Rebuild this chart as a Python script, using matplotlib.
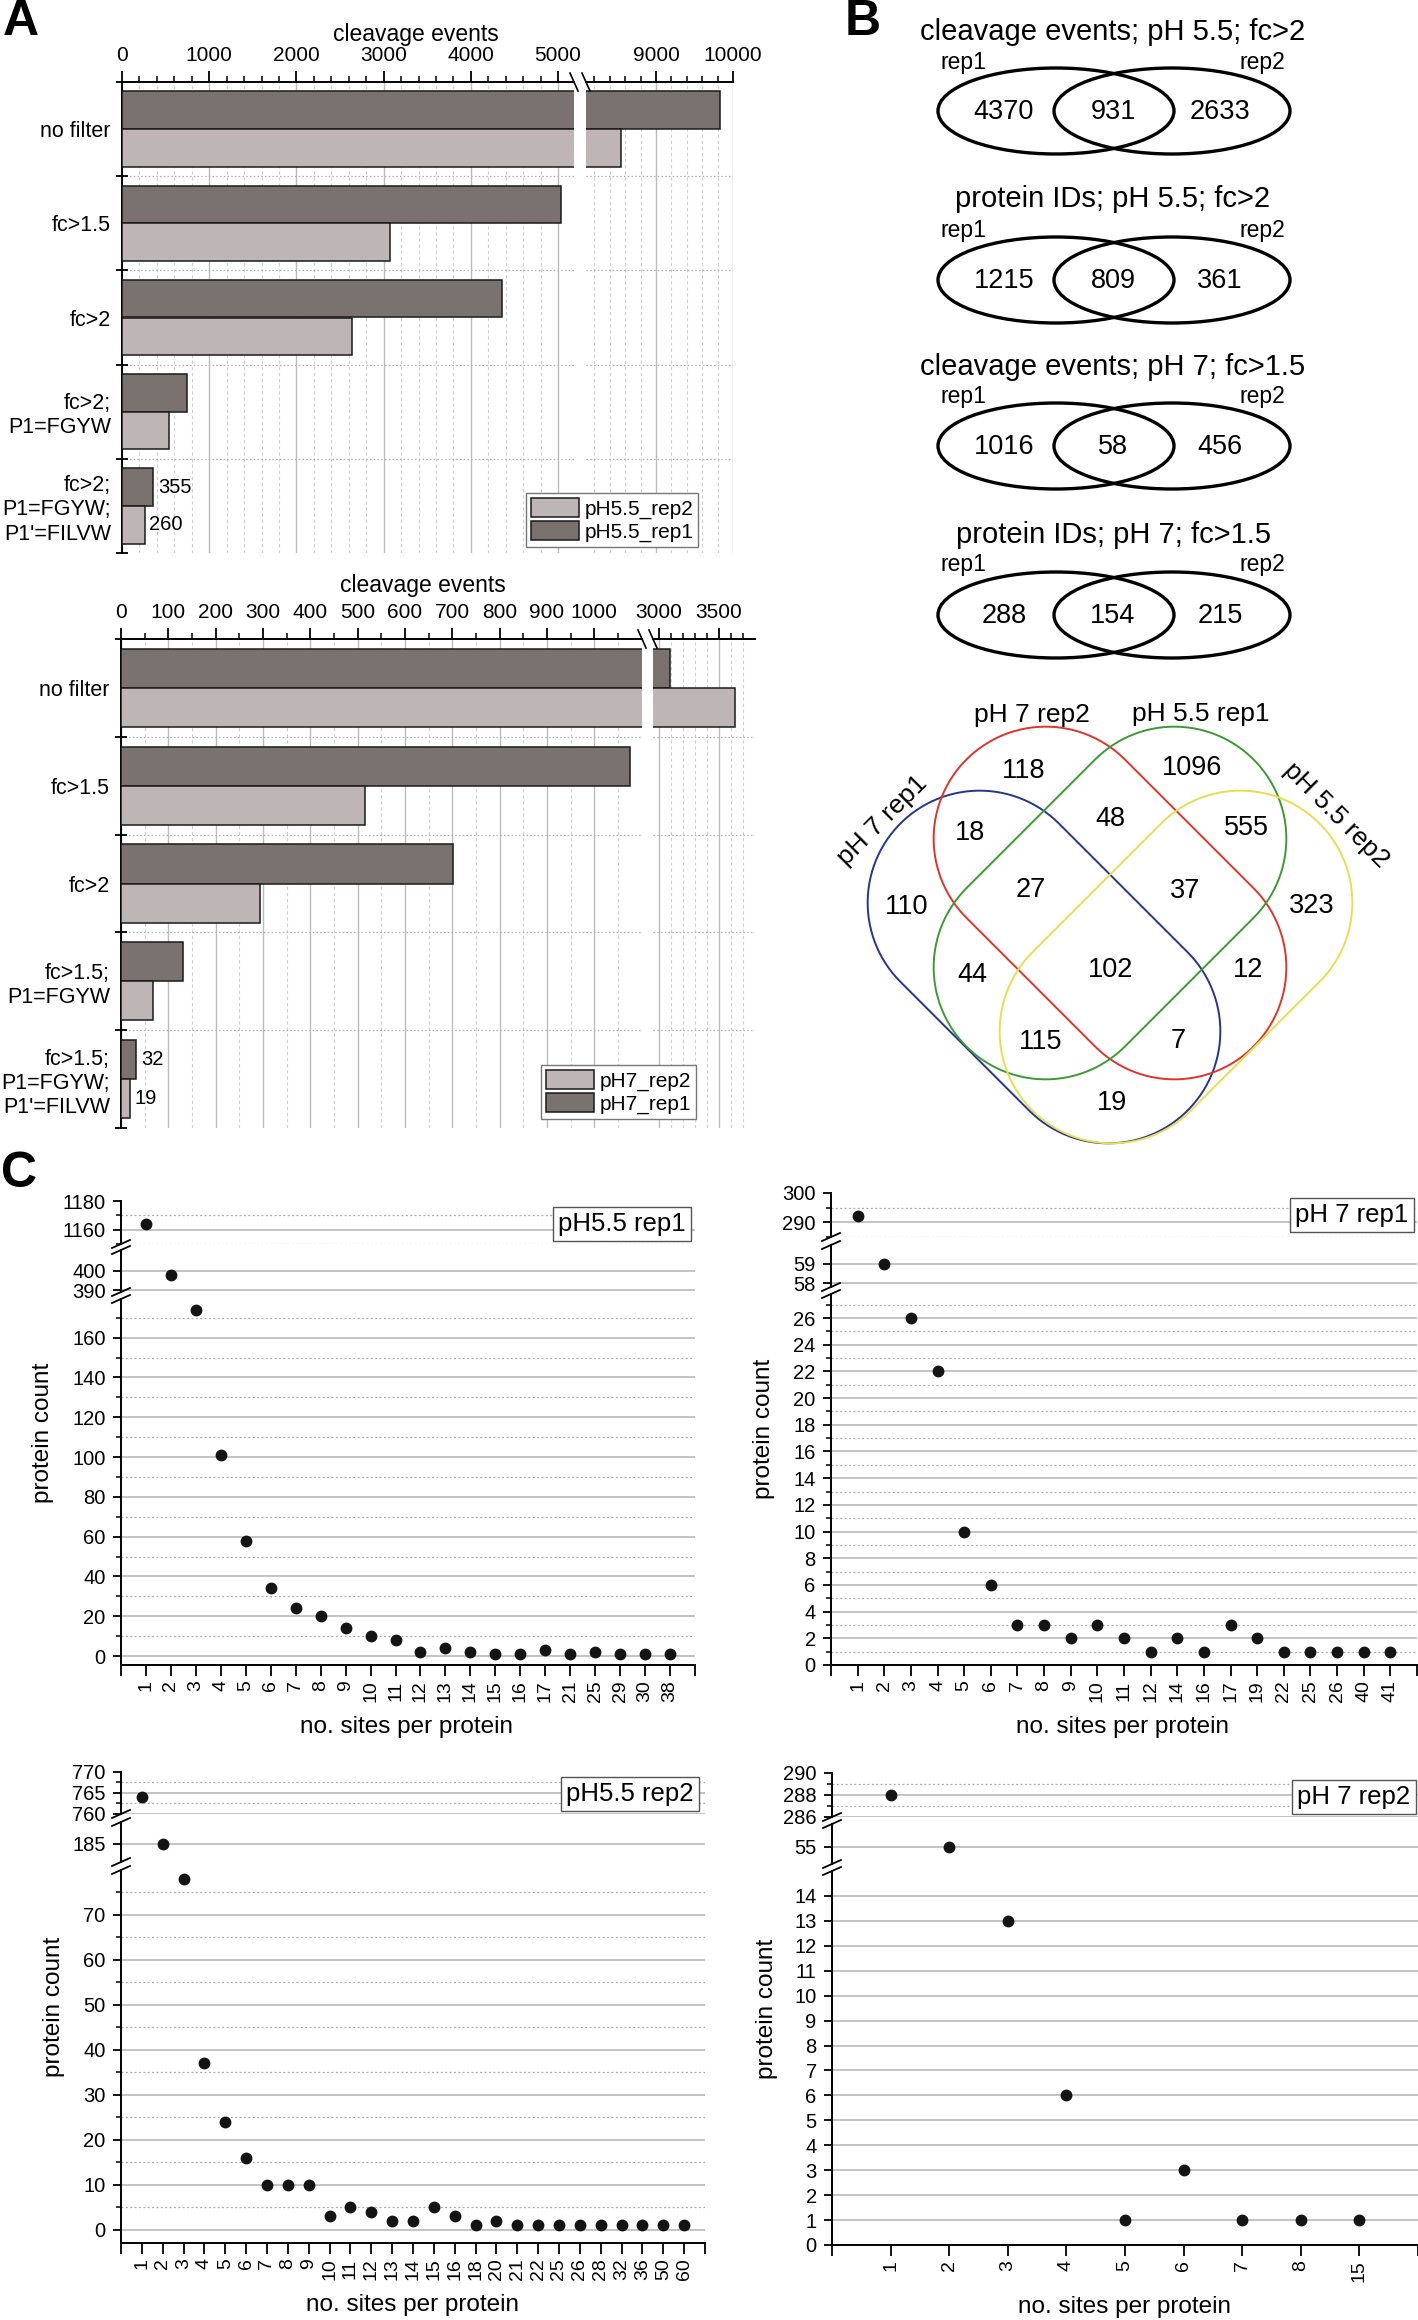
import numpy as np
import matplotlib
matplotlib.use("Agg")
import matplotlib.pyplot as plt
from matplotlib.patches import Ellipse, Polygon

plt.rcParams["font.family"] = ["Liberation Sans", "DejaVu Sans"]

W, H = 1418, 2320

# ---- panel A: cleavage events per filter step ----
filters_55 = ["no filter", "fc>1.5", "fc>2", "fc>2;\nP1=FGYW", "fc>2;\nP1=FGYW;\nP1'=FILVW"]
events_55_rep1 = [9830, 5030, 4360, 740, 355]
events_55_rep2 = [8550, 3070, 2633, 537, 260]
filters_7 = ["no filter", "fc>1.5", "fc>2", "fc>1.5;\nP1=FGYW", "fc>1.5;\nP1=FGYW;\nP1'=FILVW"]
events_7_rep1 = [3094, 1075, 701, 130, 32]
events_7_rep2 = [3635, 515, 294, 68, 19]

# ---- panel B: replicate overlaps ----
venn2_titles = ["cleavage events; pH 5.5; fc>2", "protein IDs; pH 5.5; fc>2",
                "cleavage events; pH 7; fc>1.5", "protein IDs; pH 7; fc>1.5"]
venn2_rep1_only = [4370, 1215, 1016, 288]
venn2_shared = [931, 809, 58, 154]
venn2_rep2_only = [2633, 361, 456, 215]

venn4_names = ["pH 7 rep1", "pH 7 rep2", "pH 5.5 rep1", "pH 5.5 rep2"]
# region code: membership in the four sets above, in order
venn4_regions = ["1000", "0100", "0010", "0001", "1100", "0110", "0011", "1110",
                 "0111", "1010", "1111", "0101", "1011", "1101", "1001"]
venn4_counts = [110, 118, 1096, 323, 18, 48, 555, 27, 37, 44, 102, 12, 115, 7, 19]

# ---- panel C: sites per protein ----
sites_55_rep1 = [1, 2, 3, 4, 5, 6, 7, 8, 9, 10, 11, 12, 13, 14, 15, 16, 17, 21, 25, 29, 30, 38]
proteins_55_rep1 = [1164, 398, 174, 101, 58, 34, 24, 20, 14, 10, 8, 2, 4, 2, 1, 1, 3, 1, 2, 1, 1, 1]
sites_7_rep1 = [1, 2, 3, 4, 5, 6, 7, 8, 9, 10, 11, 12, 14, 16, 17, 19, 22, 25, 26, 40, 41]
proteins_7_rep1 = [292, 59, 26, 22, 10, 6, 3, 3, 2, 3, 2, 1, 2, 1, 3, 2, 1, 1, 1, 1, 1]
sites_55_rep2 = [1, 2, 3, 4, 5, 6, 7, 8, 9, 10, 11, 12, 13, 14, 15, 16, 18, 20, 21, 22,
                 25, 26, 28, 32, 36, 50, 60]
proteins_55_rep2 = [764, 185, 78, 37, 24, 16, 10, 10, 10, 3, 5, 4, 2, 2, 5, 3, 1, 2, 1, 1,
                    1, 1, 1, 1, 1, 1, 1]
sites_7_rep2 = [1, 2, 3, 4, 5, 6, 7, 8, 15]
proteins_7_rep2 = [288, 55, 13, 6, 1, 3, 1, 1, 1]

DARK = "#7a7271"
LIGHT = "#beb6b6"

fig = plt.figure(figsize=(W / 100, H / 100), dpi=100)
ov = fig.add_axes([0, 0, 1, 1], zorder=10)
ov.set_xlim(0, W)
ov.set_ylim(H, 0)
ov.axis("off")


def rect(x0, y0, x1, y1):
    return [x0 / W, 1 - y1 / H, (x1 - x0) / W, (y1 - y0) / H]


def put(x, y, s, **kw):
    kw.setdefault("ha", "center")
    kw.setdefault("va", "center")
    return fig.text(x / W, 1 - y / H, s, **kw)


def cleavage_panel(box, split, lims, majors, minors, cats, rep1, rep2, names, legend_at, title_at):
    x0, y0, x1, y1 = box
    xa, xb = split
    pos = np.arange(len(cats))
    axl = fig.add_axes(rect(x0, y0, xa, y1))
    axr = fig.add_axes(rect(xb, y0, x1, y1))
    handles = None
    for ax, lim, maj, mnr in zip((axl, axr), lims, majors, minors):
        ax.set_facecolor("none")
        for v in maj:
            ax.axvline(v, color="#bcbcbc", lw=1.0, zorder=0)
        for v in mnr:
            ax.axvline(v, color="#d0d0d0", lw=0.8, ls=(0, (3, 2.5)), zorder=0)
        for b in pos[:-1] + 0.5:
            ax.axhline(b, color="#b0b0b0", lw=0.9, ls=(0, (1.2, 1.8)), zorder=1)
        h1 = ax.barh(pos - 0.2, rep1, 0.4, color=DARK, edgecolor="#1a1a1a", lw=1.1, zorder=3)
        h2 = ax.barh(pos + 0.2, rep2, 0.4, color=LIGHT, edgecolor="#1a1a1a", lw=1.1, zorder=3)
        if handles is None:
            handles = (h2, h1)
        ax.set_xlim(*lim)
        ax.set_ylim(len(cats) - 0.5, -0.5)
        ax.xaxis.tick_top()
        ax.set_xticks(maj)
        ax.set_xticks(mnr, minor=True)
        ax.tick_params(axis="x", which="major", direction="out", length=8, width=1.3,
                       labelsize=15, pad=4)
        ax.tick_params(axis="x", which="minor", direction="out", length=4.5, width=1.1)
        for s in ("bottom", "right", "left"):
            ax.spines[s].set_visible(False)
        ax.spines["top"].set_linewidth(1.4)
    axr.set_yticks([])
    axl.spines["left"].set_visible(True)
    axl.spines["left"].set_linewidth(1.4)
    axl.set_yticks(pos, labels=cats)
    axl.set_yticks(np.arange(len(cats) + 1) - 0.5, minor=True)
    axl.tick_params(axis="y", which="major", length=0, labelsize=15.5, pad=8)
    axl.tick_params(axis="y", which="minor", direction="inout", length=9, width=1.3)

    axl.annotate(str(rep1[-1]), (rep1[-1], pos[-1] - 0.2), xytext=(4, 0),
                 textcoords="offset points", va="center", fontsize=14.5)
    axl.annotate(str(rep2[-1]), (rep2[-1], pos[-1] + 0.2), xytext=(3, 0),
                 textcoords="offset points", va="center", fontsize=14.5)

    fig.legend(handles=handles, labels=[names[1], names[0]], loc="upper left",
               bbox_to_anchor=(legend_at[0] / W, 1 - legend_at[1] / H), frameon=True,
               fancybox=False, edgecolor="#777777", framealpha=1, fontsize=15,
               handlelength=2.3, handleheight=1.05, borderpad=0.22, labelspacing=0.12,
               handletextpad=0.3, borderaxespad=0)
    put(*title_at, "cleavage events", fontsize=16.5)
    for x in (xa, xb):
        ov.plot([x - 4, x + 4], [y0 - 9, y0 + 9], color="black", lw=1.2, clip_on=False)


cleavage_panel((122, 82, 733, 553), (574, 586), ((0, 5183), (8091, 10000)),
               (list(range(0, 5001, 1000)), [9000, 10000]),
               ([v for v in range(200, 5200, 200) if v % 1000],
                [8200, 8400, 8600, 8800, 9200, 9400, 9600, 9800]),
               filters_55, events_55_rep1, events_55_rep2, ["pH5.5_rep1", "pH5.5_rep2"],
               (526, 493), (416, 34))

cleavage_panel((121, 639, 755, 1128), (642, 653), ((0, 1101), (2950, 3800)),
               (list(range(0, 1001, 100)), [3000, 3500]),
               (list(range(50, 1101, 100)), [3100, 3200, 3300, 3400, 3600, 3700]),
               filters_7, events_7_rep1, events_7_rep2, ["pH7_rep1", "pH7_rep2"],
               (541, 1065), (423, 586))

# ---- panel B: two-replicate Venns ----
venn2_rows = [(32, 63, 111), (199, 231, 280), (367, 396, 446), (535, 564, 615)]
for title, r1, sh, r2, (ty, ly, cy) in zip(venn2_titles, venn2_rep1_only, venn2_shared,
                                          venn2_rep2_only, venn2_rows):
    put(1113, ty, title, fontsize=21)
    put(963, ly, "rep1", fontsize=16.5)
    put(1262, ly, "rep2", fontsize=16.5)
    for cx in (1056, 1172):
        ov.add_patch(Ellipse((cx, cy), 236, 86, fill=False, ec="black", lw=2.4))
    for x, v in zip((1004, 1113, 1220), (r1, sh, r2)):
        put(x, cy + 1, str(v), fontsize=19.5)


# ---- panel B: four-way Venn (rotated capsule outlines) ----
def capsule(center, direction, half_len, radius):
    u = np.array(direction, float) / np.hypot(*direction)
    v = np.array([-u[1], u[0]])
    t1 = np.linspace(-np.pi / 2, np.pi / 2, 60)
    t2 = t1 + np.pi
    c = np.array(center, float)
    end1 = c + half_len * u + radius * (np.outer(np.cos(t1), u) + np.outer(np.sin(t1), v))
    end2 = c - half_len * u + radius * (np.outer(np.cos(t2), u) + np.outer(np.sin(t2), v))
    return np.vstack([end1, end2])


venn4_shapes = [((1044, 967), (1, 1), "#243592"), ((1110, 903), (1, 1), "#e2332b"),
                ((1110, 903), (1, -1), "#3d9a32"), ((1176, 967), (1, -1), "#e6df4e")]
for c, d, col in venn4_shapes:
    ov.add_patch(Polygon(capsule(c, d, 91, 112), closed=True, fill=False, ec=col, lw=1.4))
venn4_label_pos = {"1000": (907, 907), "0100": (1024, 771), "0010": (1192, 768),
                   "0001": (1312, 906), "1100": (970, 833), "0110": (1110, 819),
                   "0011": (1246, 828), "1110": (1031, 890), "0111": (1185, 891),
                   "1010": (972, 975), "1111": (1111, 970), "0101": (1248, 970),
                   "1011": (1041, 1042), "1101": (1178, 1041), "1001": (1112, 1103)}
for code, v in zip(venn4_regions, venn4_counts):
    put(*venn4_label_pos[code], str(v), fontsize=19.5)
venn4_name_pos = [(882, 821, 45), (1032, 715, 0), (1201, 714, 0), (1336, 815, -45)]
for name, (x, y, rot) in zip(venn4_names, venn4_name_pos):
    put(x, y, name, fontsize=19, rotation=rot, rotation_mode="anchor")


# ---- panel C: sites per protein with broken y axes ----
def sites_panel(xs, segs, sites, counts, name, box_at, ylab_at, xlab_at):
    x0, x1 = xs
    pos = np.arange(1, len(sites) + 1)
    for i, (y0, y1, lim, maj, mnr) in enumerate(segs):
        ax = fig.add_axes(rect(x0, y0, x1, y1))
        ax.set_facecolor("none")
        for v in maj:
            if v < lim[1] - 1e-9:
                ax.axhline(v, color="#b4b4b4", lw=1.1, zorder=0)
        for v in mnr:
            ax.axhline(v, color="#a8a8a8", lw=0.9, ls=(0, (1.5, 2)), zorder=0)
        ax.plot(pos, counts, "o", color="#141414", ms=7.5, zorder=4)
        ax.set_xlim(0, len(sites) + 1)
        ax.set_ylim(*lim)
        ax.set_yticks(maj)
        ax.set_yticks(mnr, minor=True)
        ax.tick_params(axis="y", which="major", length=6, width=1.3, labelsize=14.5, pad=5)
        ax.tick_params(axis="y", which="minor", length=3.5, width=1.1)
        for s in ("top", "right"):
            ax.spines[s].set_visible(False)
        ax.spines["left"].set_linewidth(1.4)
        if i < len(segs) - 1:
            ax.spines["bottom"].set_visible(False)
            ax.set_xticks([])
            yb, yt = y1, segs[i + 1][0]
            for y in (yb, yt):
                ov.plot([x0 - 9, x0 + 9], [y + 4, y - 4], color="black", lw=1.3)
        else:
            ax.spines["bottom"].set_linewidth(1.4)
            ax.set_xticks(pos, labels=[str(s) for s in sites], rotation=90)
            ax.set_xticks([0, len(sites) + 1], minor=True)
            ax.tick_params(axis="x", which="both", length=8, width=1.3, labelsize=14, pad=3)
    put(*box_at, name, fontsize=18.5,
        bbox=dict(boxstyle="square,pad=0.2", fc="white", ec="#555555", lw=1.0))
    put(*ylab_at, "protein count", fontsize=17.5, rotation=90)
    put(*xlab_at, "no. sites per protein", fontsize=17.5)


sites_panel((121, 695),
            [(1201, 1244, (1150, 1180), [1160, 1180], [1150, 1170]),
             (1250, 1292, (389, 410.9), [390, 400], []),
             (1299, 1665, (-4.5, 179.4), list(range(0, 161, 20)), list(range(10, 171, 20)))],
            sites_55_rep1, proteins_55_rep1, "pH5.5 rep1", (622, 1224), (43, 1433), (407, 1727))

sites_panel((831, 1417),
            [(1193, 1237, (285.3, 300), [290, 300], [285, 295]),
             (1245, 1287, (57.82, 59.97), [58, 59], []),
             (1294, 1665, (0, 27.8), list(range(0, 27, 2)), list(range(1, 28, 2)))],
            sites_7_rep1, proteins_7_rep1, "pH 7 rep1", (1352, 1215), (764, 1429), (1123, 1727))

sites_panel((121, 705),
            [(1772, 1814, (760, 770), [760, 765, 770], [762.5, 767.5]),
             (1822, 1862, (182, 188.6), [185], []),
             (1870, 2243, (-2.9, 80), list(range(0, 71, 10)), list(range(5, 76, 10)))],
            sites_55_rep2, proteins_55_rep2, "pH5.5 rep2", (630, 1794), (54, 2007), (412, 2305))

sites_panel((832, 1418),
            [(1773, 1817, (286, 290), [286, 288, 290], [287, 289]),
             (1824, 1864, (53.8, 56.6), [55], []),
             (1871, 2245, (0, 15), list(range(0, 15)), [])],
            sites_7_rep2, proteins_7_rep2, "pH 7 rep2", (1354, 1797), (767, 2009), (1124, 2307))

# panel letters
put(21, 22, "A", fontsize=36, fontweight="bold")
put(863, 22, "B", fontsize=36, fontweight="bold")
put(19, 1174, "C", fontsize=36, fontweight="bold")

fig.savefig("out.png", dpi=100, facecolor="white")
